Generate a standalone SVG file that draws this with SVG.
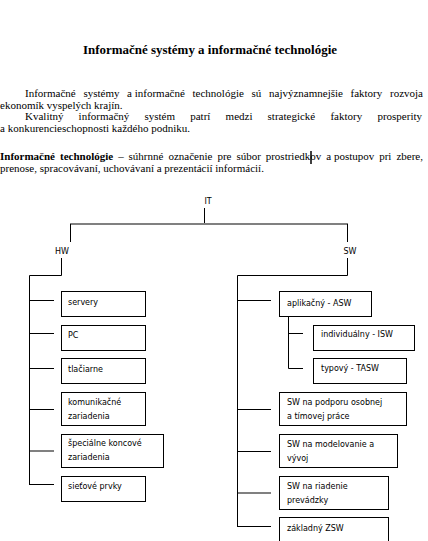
<svg xmlns="http://www.w3.org/2000/svg" width="428" height="541" viewBox="0 0 428 541">
<style>
.t{font-family:"Liberation Serif","Times New Roman",serif;font-size:11px;fill:#000}
.b{font-weight:bold}
.h{font-family:"Liberation Serif","Times New Roman",serif;font-size:12px;font-weight:bold;fill:#000}
.n{font-family:"DejaVu Sans",Verdana,sans-serif;font-size:8px;fill:#000}
.box{fill:#fff;stroke:#000;stroke-width:1}
.ln{stroke:#000;stroke-width:1;fill:none}
.lg{stroke:#808080;stroke-width:2;fill:none}
</style>
<rect width="428" height="541" fill="#fff"/>
<g id="text">
<text class="h" x="83" y="54" textLength="254" lengthAdjust="spacingAndGlyphs">Informačné systémy a informačné technológie</text>
<text class="t" y="97"><tspan x="25">Informačné</tspan><tspan x="83.4">systémy</tspan><tspan x="127.1">a informačné</tspan><tspan x="192.5">technológie</tspan><tspan x="251.5">sú</tspan><tspan x="269">najvýznamnejšie</tspan><tspan x="350.5">faktory</tspan><tspan x="390">rozvoja</tspan></text>
<text class="t" x="0" y="108.5">ekonomík vyspelých krajín.</text>
<text class="t" y="120"><tspan x="25">Kvalitný</tspan><tspan x="78.6">informačný</tspan><tspan x="144.5">systém</tspan><tspan x="190.2">patrí</tspan><tspan x="225.6">medzi</tspan><tspan x="267.6">strategické</tspan><tspan x="330.4">faktory</tspan><tspan x="377.4">prosperity</tspan></text>
<text class="t" x="0" y="131.5">a konkurencieschopnosti každého podniku.</text>
<text class="t" y="160"><tspan class="b" x="0">Informačné</tspan><tspan class="b" x="60">technológie</tspan><tspan x="118.2">–</tspan><tspan x="128.6">súhrnné</tspan><tspan x="168.4">označenie</tspan><tspan x="217.4">pre</tspan><tspan x="236.4">súbor</tspan><tspan x="265.7">prostriedkov</tspan><tspan x="326.3">a postupov</tspan><tspan x="379.2">pri</tspan><tspan x="396.4">zbere,</tspan></text>
<text class="t" x="0" y="172">prenose, spracovávaní, uchovávaní a prezentácií informácií.</text>
<line x1="311" y1="151" x2="311" y2="164" stroke="#000" stroke-width="1.5"/>
</g>
<g id="connectors">
<line class="ln" x1="204.5" y1="208" x2="204.5" y2="224"/>
<line class="lg" x1="70" y1="224" x2="348" y2="224"/>
<line class="ln" x1="70.5" y1="224" x2="70.5" y2="242"/>
<line class="ln" x1="347.5" y1="224" x2="347.5" y2="242"/>
<polyline class="ln" points="61.5,258 61.5,275.5 29.5,275.5 29.5,484.5"/>
<line class="ln" x1="29" y1="300.5" x2="54" y2="300.5"/>
<line class="ln" x1="29" y1="333.5" x2="54" y2="333.5"/>
<line class="ln" x1="29" y1="368.5" x2="54" y2="368.5"/>
<line class="ln" x1="29" y1="409.5" x2="54" y2="409.5"/>
<line class="lg" x1="30" y1="451" x2="54" y2="451"/>
<line class="ln" x1="29" y1="484.5" x2="54" y2="484.5"/>
<polyline class="ln" points="347.5,258 347.5,275.5 237.5,275.5 237.5,526.5"/>
<line class="ln" x1="237" y1="300.5" x2="271" y2="300.5"/>
<polyline class="ln" points="288.5,316 288.5,368.5 303,368.5"/>
<line class="ln" x1="288" y1="333.5" x2="303" y2="333.5"/>
<line class="ln" x1="237" y1="409.5" x2="271" y2="409.5"/>
<line class="ln" x1="237" y1="451.5" x2="271" y2="451.5"/>
<line class="lg" x1="238" y1="493" x2="271" y2="493"/>
<line class="ln" x1="237" y1="526.5" x2="271" y2="526.5"/>
</g>
<g id="IT"><text class="n" x="208" y="204" text-anchor="middle">IT</text></g>
<g id="HW"><text class="n" x="62" y="254" text-anchor="middle">HW</text></g>
<g id="SW"><text class="n" x="350" y="254" text-anchor="middle">SW</text></g>
<g id="servery"><rect class="box" x="61.5" y="291.5" width="84" height="25"/><text class="n" x="68" y="305">servery</text></g>
<g id="pc"><rect class="box" x="61.5" y="325.5" width="84" height="25"/><text class="n" x="68" y="338">PC</text></g>
<g id="tlaciarne"><rect class="box" x="61.5" y="358.5" width="84" height="25"/><text class="n" x="68" y="372">tlačiarne</text></g>
<g id="komunikacne"><rect class="box" x="61.5" y="392.5" width="84" height="33"/><text class="n" x="68" y="405">komunikačné</text><text class="n" x="68" y="419">zariadenia</text></g>
<g id="specialne"><rect class="box" x="61.5" y="434.5" width="102" height="33"/><text class="n" x="68" y="446">špeciálne koncové</text><text class="n" x="68" y="460">zariadenia</text></g>
<g id="sietove"><rect class="box" x="61.5" y="476.5" width="84" height="25"/><text class="n" x="68" y="489">sieťové prvky</text></g>
<g id="aplikacny"><rect class="box" x="279.5" y="291.5" width="92" height="25"/><text class="n" x="287" y="306">aplikačný - ASW</text></g>
<g id="individualny"><rect class="box" x="313.5" y="325.5" width="101" height="25"/><text class="n" x="321" y="337">individuálny - ISW</text></g>
<g id="typovy"><rect class="box" x="313.5" y="358.5" width="93" height="25"/><text class="n" x="321" y="371">typový - TASW</text></g>
<g id="podpora"><rect class="box" x="279.5" y="392.5" width="127" height="33"/><text class="n" x="287" y="405">SW na podporu osobnej</text><text class="n" x="287" y="419">a tímovej práce</text></g>
<g id="modelovanie"><rect class="box" x="279.5" y="434.5" width="118" height="33"/><text class="n" x="287" y="447">SW na modelovanie a</text><text class="n" x="287" y="461">vývoj</text></g>
<g id="riadenie"><rect class="box" x="279.5" y="476.5" width="109" height="33"/><text class="n" x="287" y="489">SW na riadenie</text><text class="n" x="287" y="503">prevádzky</text></g>
<g id="zakladny"><rect class="box" x="279.5" y="517.5" width="109" height="30"/><text class="n" x="287" y="531">základný ZSW</text></g>
</svg>
